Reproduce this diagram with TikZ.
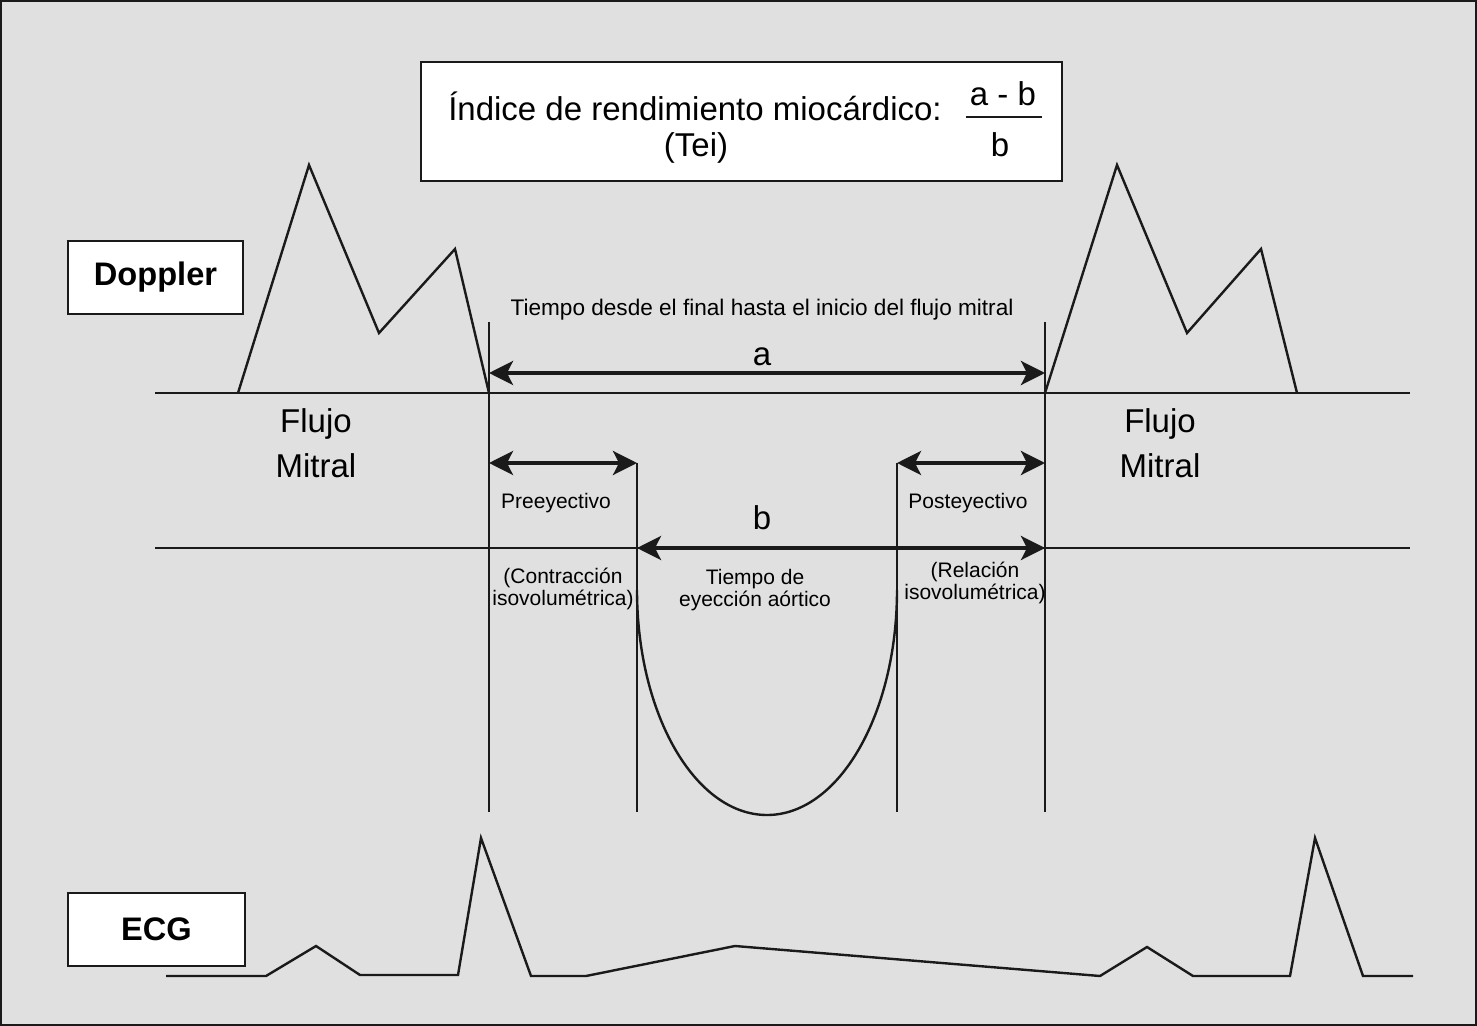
\documentclass[tikz,border=0pt]{standalone}
\usepackage{fontspec}
\setmainfont{Liberation Sans}
\usetikzlibrary{positioning, arrows.meta}
\definecolor{paper}{HTML}{E0E0E0}
\definecolor{ink}{HTML}{1A1A1A}
\tikzset{tag/.style={draw=ink, line width=1.2pt, fill=white, minimum width=87.5pt, minimum height=36.5pt, inner sep=0pt, font=\fontsize{16.3}{19}\selectfont\bfseries},
big/.style={inner sep=0pt, align=center, font=\fontsize{16.5}{22.5}\selectfont},
small/.style={inner sep=0pt, align=center, font=\fontsize{10.5}{11}\selectfont},
trace/.style={draw=ink, line width=1.2pt, line join=miter},
guide/.style={draw=ink, line width=1pt},
span/.style={{Stealth[length=12pt, width=12pt, inset=3pt]}-{Stealth[length=12pt, width=12pt, inset=3pt]}, draw=ink, line width=1.8pt}}

\begin{document}
\begin{tikzpicture}[x=0.5pt, y=-0.5pt]
  \useasboundingbox (0,0) rectangle (1477,1026);
  \fill[paper] (0,0) rectangle (1477,1026);
  \draw[ink, line width=1pt] (1,1) rectangle (1476,1025);

  % title box with the index formula
  \node[draw=ink, line width=1.1pt, fill=white, minimum width=320.5pt, minimum height=59.5pt, inner sep=0pt] (title) at (741.5,121.5) {};
  \node[big, anchor=base] (idx) at (695,121) {Índice de rendimiento miocárdico:};
  \node[big, anchor=base] (tei) at (696,157) {(Tei)};
  \node[big, anchor=base] (num) at (1003,106) {a - b};
  \node[big, anchor=base] (den) at (1000,157) {b};
  \coordinate (barL) at (966,117);
  \coordinate (barR) at (1042,117);
  \draw[guide] (barL) -- (barR);

  % side tags
  \node[tag] (doppler) at (155.5,277.5) {Doppler};
  \node[tag, minimum width=88.5pt] (ecg) at (156.5,929.5) {ECG};

  % baselines
  \coordinate (base1L) at (155,393);
  \coordinate (base1R) at (1410,393);
  \coordinate (base2L) at (155,548);
  \coordinate (base2R) at (1410,548);
  \draw[guide] (base1L) -- (base1R);
  \draw[guide] (base2L) -- (base2R);

  % mitral flow waves
  \draw[trace] (238,393) -- (309,165) -- (379,333) -- (455,249) -- (489,393);
  \draw[trace] (1045,393) -- (1117,165) -- (1187,333) -- (1261,249) -- (1297,393);
  \node[big] (flujoL) at (316,443.5) {Flujo\\Mitral};
  \node[big] (flujoR) at (1160,443.5) {Flujo\\Mitral};

  % timing marks
  \coordinate (endT) at (489,322);
  \coordinate (endB) at (489,812);
  \coordinate (startT) at (1045,322);
  \coordinate (startB) at (1045,812);
  \coordinate (openT) at (637,463);
  \coordinate (openB) at (637,812);
  \coordinate (closeT) at (897,463);
  \coordinate (closeB) at (897,812);
  \draw[guide] (endT) -- (endB);
  \draw[guide] (startT) -- (startB);
  \draw[guide] (openT) -- (openB);
  \draw[guide] (closeT) -- (closeB);

  % aortic ejection curve
  \draw[trace] (637,590) .. controls (637,714) and (695,815) .. (767,815)
    .. controls (839,815) and (897,714) .. (897,590);

  % intervals
  \coordinate (aL) at (489,373);
  \coordinate (aR) at (1045,373);
  \coordinate (preL) at (489,463);
  \coordinate (postR) at (1045,463);
  \coordinate (bL) at (637,548);
  \coordinate (bR) at (1045,548);
  \draw[span] (aL) -- (aR);
  \draw[span] (preL) -- (openT);
  \draw[span] (closeT) -- (postR);
  \draw[span] (bL) -- (bR);

  \node[inner sep=0pt, font=\fontsize{11.3}{13}\selectfont, anchor=base] (desde) at (762,316) {Tiempo desde el final hasta el inicio del flujo mitral};
  \node[big, anchor=base] (alab) at (762,366) {a};
  \node[big, anchor=base] (blab) at (762,529) {b};
  \node[small, anchor=base] (pre) at (556,508) {Preeyectivo};
  \node[small, anchor=base] (post) at (968,508) {Posteyectivo};
  \node[small] (contr) at (563,589) {(Contracción\\isovolumétrica)};
  \node[small] (eyec) at (755,590) {Tiempo de\\eyección aórtico};
  \node[small] (relac) at (975,583) {(Relación\\isovolumétrica)};

  % ECG trace
  \draw[trace] (166,976) -- (266,976) -- (316,946) -- (360,975) -- (458,975)
    -- (481,838) -- (531,976) -- (586,976) -- (735,946) -- (1100,976)
    -- (1147,947) -- (1193,976) -- (1290,976) -- (1315,838) -- (1363,976) -- (1413,976);
\end{tikzpicture}
\end{document}
